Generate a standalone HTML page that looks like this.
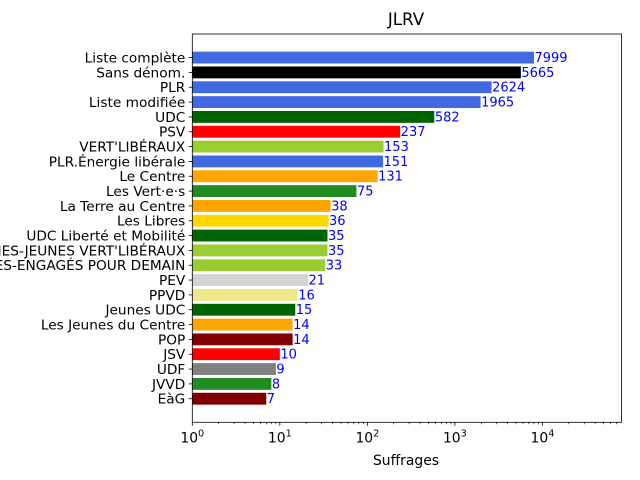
<!DOCTYPE html>
<html><head><meta charset="utf-8"><style>body{margin:0;background:#fff}svg{display:block;font-family:"DejaVu Sans","Liberation Sans",sans-serif}</style></head>
<body>
<svg id="chart" width="640" height="480" xmlns="http://www.w3.org/2000/svg"></svg>
<script>
const categories=["Liste complète","Sans dénom.","PLR","Liste modifiée","UDC","PSV","VERT'LIBÉRAUX","PLR.Énergie libérale","Le Centre","Les Vert·e·s","La Terre au Centre","Les Libres","UDC Liberté et Mobilité","JEUNES-JEUNES VERT'LIBÉRAUX","JEUNES-ENGAGÉS POUR DEMAIN","PEV","PPVD","Jeunes UDC","Les Jeunes du Centre","POP","JSV","UDF","JVVD","EàG"];
const values=[7999,5665,2624,1965,582,237,153,151,131,75,38,36,35,35,33,21,16,15,14,14,10,9,8,7];
const colors=["royalblue","#000","royalblue","royalblue","#006400","#ff0000","yellowgreen","royalblue","orange","forestgreen","orange","gold","#006400","yellowgreen","yellowgreen","lightgray","khaki","#006400","orange","#800000","#ff0000","gray","forestgreen","#800000"];
const tickExps=[0,1,2,3,4];
const NS="http://www.w3.org/2000/svg";
const svg=document.getElementById('chart');
const L=192.3,R=621.5,T=34,B=422.3;
const xmin=0,xmax=Math.log10(79990);
const xs=v=>L+(Math.log10(v)-xmin)/(xmax-xmin)*(R-L);
const n=categories.length;
const ylo=-0.4-1.19,yhi=n-1+0.4+1.19;
const ys=i=>T+(i-ylo)/(yhi-ylo)*(B-T);
const unit=(B-T)/(yhi-ylo);
function mk(tag,attrs,parent){const e=document.createElementNS(NS,tag);for(const k in attrs)e.setAttribute(k,attrs[k]);(parent||svg).appendChild(e);return e;}
let t=mk('text',{x:406,y:25,'font-size':16.7,'text-anchor':'middle'});t.textContent="JLRV";


categories.forEach((c,i)=>{
 const y=ys(i);
 const r=mk('rect',{x:L,y:y-0.4*unit,width:xs(values[i])-L,height:0.8*unit,fill:colors[i]});
 
 
 const v=mk('text',{x:xs(values[i])+0.5,y:y+4.5,'font-size':13,fill:'blue'});v.textContent=values[i];
 
 
 mk('line',{x1:L-3.5,x2:L,y1:y,y2:y,stroke:'#000','stroke-width':0.8});
 const l=mk('text',{x:L-7,y:y+5,'font-size':13.7,'text-anchor':'end'});l.textContent=c;
 
 
});
tickExps.forEach(e=>{
 const x=xs(Math.pow(10,e));
 mk('line',{x1:x,x2:x,y1:B,y2:B+3.5,stroke:'#000','stroke-width':0.8});
 const tx=mk('text',{x:x,y:B+20,'font-size':13.9,'text-anchor':'middle'});
 tx.innerHTML='10<tspan dy="-6" font-size="9.7">'+e+'</tspan>';
 
 
 for(let m=2;m<=9;m++){const v=m*Math.pow(10,e);if(Math.log10(v)<=xmax){const xm=xs(v);mk('line',{x1:xm,x2:xm,y1:B,y2:B+2,stroke:'#000','stroke-width':0.6});}}
});
const fr=mk('rect',{x:L,y:T,width:R-L,height:B-T,fill:'none',stroke:'#000','stroke-width':0.8});


const xl=mk('text',{x:406,y:465,'font-size':13.9,'text-anchor':'middle'});xl.textContent="Suffrages";


</script>
</body></html>
